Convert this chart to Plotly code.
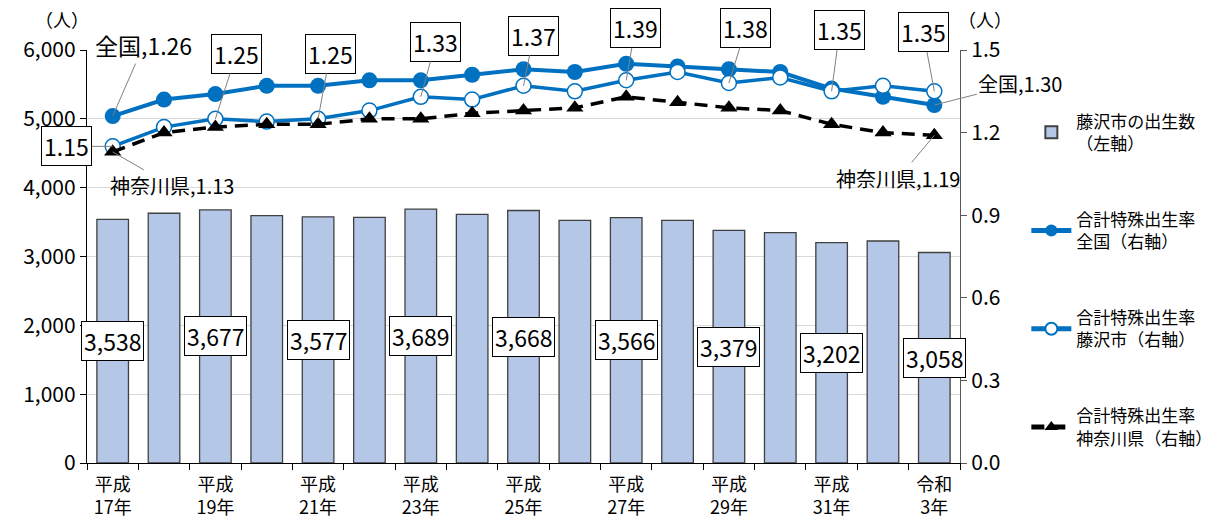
import plotly.graph_objects as go

categories = ["平成17年", "平成18年", "平成19年", "平成20年", "平成21年", "平成22年",
              "平成23年", "平成24年", "平成25年", "平成26年", "平成27年", "平成28年",
              "平成29年", "平成30年", "平成31年", "令和2年", "令和3年"]
tick_labels = ["平成<br>17年", "", "平成<br>19年", "", "平成<br>21年", "", "平成<br>23年", "",
               "平成<br>25年", "", "平成<br>27年", "", "平成<br>29年", "", "平成<br>31年", "",
               "令和<br>3年"]
births = [3538, 3628, 3677, 3594, 3577, 3569, 3689, 3613, 3668, 3526, 3566, 3526,
          3379, 3346, 3202, 3225, 3058]
tfr_japan = [1.26, 1.32, 1.34, 1.37, 1.37, 1.39, 1.39, 1.41, 1.43, 1.42, 1.45, 1.44,
             1.43, 1.42, 1.36, 1.33, 1.30]
tfr_fujisawa = [1.15, 1.22, 1.25, 1.24, 1.25, 1.28, 1.33, 1.32, 1.37, 1.35, 1.39, 1.42,
                1.38, 1.40, 1.35, 1.37, 1.35]
tfr_kanagawa = [1.13, 1.20, 1.22, 1.23, 1.23, 1.25, 1.25, 1.27, 1.28, 1.29, 1.33, 1.31,
                1.29, 1.28, 1.23, 1.20, 1.19]
labeled_idx = [0, 2, 4, 6, 8, 10, 12, 14, 16]

FONT = "Noto Sans CJK JP, Noto Sans, sans-serif"
BLUE = "#0070C0"

fig = go.Figure()
fig.add_trace(go.Bar(
    x=categories, y=births, name="藤沢市の出生数<br>（左軸）",
    marker=dict(color="#B4C7E7", line=dict(color="#404040", width=1.3)),
    legendgroup="a", yaxis="y"))
fig.add_trace(go.Scatter(
    x=categories, y=tfr_japan, name="合計特殊出生率<br>全国（右軸）", mode="lines+markers",
    line=dict(color=BLUE, width=4), marker=dict(size=16, color=BLUE),
    legendgroup="b", yaxis="y2"))
fig.add_trace(go.Scatter(
    x=categories, y=tfr_fujisawa, name="合計特殊出生率<br>藤沢市（右軸）", mode="lines+markers",
    line=dict(color=BLUE, width=3.5),
    marker=dict(size=15, color="white", line=dict(color=BLUE, width=1.5)),
    legendgroup="c", yaxis="y2"))
fig.add_trace(go.Scatter(
    x=categories, y=tfr_kanagawa, name="合計特殊出生率<br>神奈川県（右軸）", mode="lines+markers",
    line=dict(color="black", width=3.5, dash="13px,8px"),
    marker=dict(size=15, color="black", symbol="triangle-up"),
    legendgroup="d", yaxis="y2"))

annotations = []
# bar labels
for i in labeled_idx:
    annotations.append(dict(
        x=categories[i], y=births[i] / 2, xref="x", yref="y", showarrow=False,
        text=f"{births[i]:,}", font=dict(size=23, color="black", family=FONT),
        bgcolor="white", bordercolor="black", borderwidth=1, borderpad=2))

# Fujisawa rate labels (boxed, with leader lines)
fuji_offsets = {0: (-46, 0), 2: (21, -65), 4: (12, -65), 6: (15, -55), 8: (10, -50),
                10: (9, -52), 12: (17, -55), 14: (8, -61), 16: (-11, -59)}
for i, (ax, ay) in fuji_offsets.items():
    annotations.append(dict(
        x=categories[i], y=tfr_fujisawa[i], xref="x", yref="y2", showarrow=True,
        ax=ax, ay=ay, arrowhead=0, arrowwidth=1, arrowcolor="#808080", standoff=0,
        text=f"{tfr_fujisawa[i]:.2f}", font=dict(size=23, color="black", family=FONT),
        bgcolor="white", bordercolor="black", borderwidth=1, borderpad=2))

# national / Kanagawa endpoint labels
end_labels = [
    (0, tfr_japan, "全国", 31, -71, 23),
    (16, tfr_japan, "全国", 86, -22, 20),
    (0, tfr_kanagawa, "神奈川県", 59, 34, 20),
    (16, tfr_kanagawa, "神奈川県", -36, 43, 20),
]
for i, series, name, ax, ay, fs in end_labels:
    annotations.append(dict(
        x=categories[i], y=series[i], xref="x", yref="y2", showarrow=True,
        ax=ax, ay=ay, arrowhead=0, arrowwidth=1, arrowcolor="#808080", standoff=0,
        text=f"{name},{series[i]:.2f}",
        font=dict(size=fs, color="black", family=FONT)))

# unit labels
for ux in (-0.0286, 1.0286):
    annotations.append(dict(x=ux, y=1.075, xref="paper", yref="paper", text="（人）",
                            showarrow=False, xanchor="center", yanchor="middle",
                            font=dict(size=18, family=FONT, color="black")))

fig.update_layout(
    width=1214, height=518,
    margin=dict(l=79, r=262, t=42, b=63, autoexpand=False),
    paper_bgcolor="white", plot_bgcolor="white",
    font=dict(family=FONT, size=18, color="black"),
    bargap=0.385,
    showlegend=True,
    legend=dict(x=1.076, y=0.87, xanchor="left", yanchor="top", traceorder="grouped",
                tracegroupgap=51, itemwidth=40, itemsizing="constant",
                font=dict(size=17, family=FONT),
                bgcolor="rgba(0,0,0,0)"),
    xaxis=dict(type="category", range=[-0.5, 16.5], tickmode="array", tickvals=categories,
               ticktext=tick_labels, tickangle=0, showline=True, linecolor="black",
               linewidth=1.2, ticks="outside", ticklen=6, tickcolor="black",
               tickson="boundaries", tickfont=dict(size=18), showgrid=False,
               ticklabelstandoff=5),
    yaxis=dict(range=[0, 6000], tickvals=[0, 1000, 2000, 3000, 4000, 5000, 6000],
               tickformat=",", showline=True, linecolor="black", linewidth=1.2,
               ticks="outside", ticklen=6, tickcolor="black",
               showgrid=True, gridcolor="#d9d9d9", gridwidth=1.2,
               tickfont=dict(size=21), zeroline=False),
    yaxis2=dict(range=[0, 1.5], tickvals=[0, 0.3, 0.6, 0.9, 1.2, 1.5], tickformat=".1f",
                overlaying="y", side="right", showline=True, linecolor="#595959", linewidth=1.2,
                ticks="outside", ticklen=6, tickcolor="#595959", showgrid=False,
                tickfont=dict(size=21), zeroline=False),
    annotations=annotations,
)

fig.write_html("out.html")
